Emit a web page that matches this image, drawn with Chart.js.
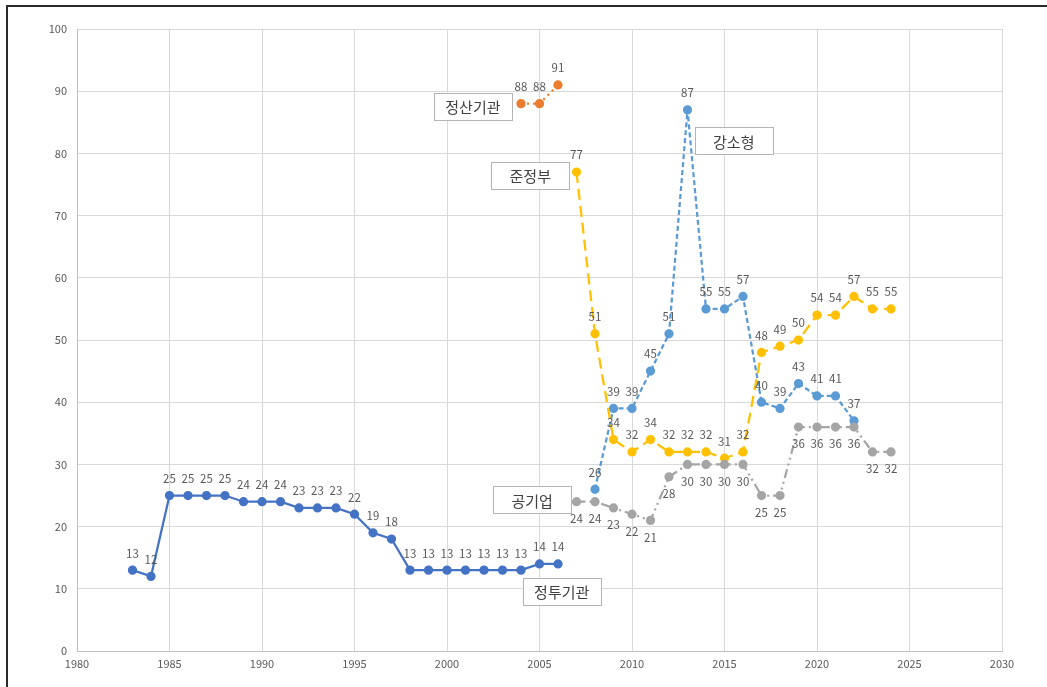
<!DOCTYPE html>
<html>
<head>
<meta charset="utf-8">
<script src="https://cdn.jsdelivr.net/npm/chart.js@4"></script>
<style>
  body { margin: 0; background: #fff; }
  #wrap { width: 1047px; height: 687px; }
</style>
</head>
<body>
<div id="wrap"><canvas id="chart" width="1047" height="687"></canvas></div>
<script>
// years and values per series
const jeongtuYears = [1983, 1984, 1985, 1986, 1987, 1988, 1989, 1990, 1991, 1992, 1993, 1994, 1995, 1996, 1997, 1998, 1999, 2000, 2001, 2002, 2003, 2004, 2005, 2006];
const jeongtuValues = [13, 12, 25, 25, 25, 25, 24, 24, 24, 23, 23, 23, 22, 19, 18, 13, 13, 13, 13, 13, 13, 13, 14, 14];

const jeongsanYears = [2004, 2005, 2006];
const jeongsanValues = [88, 88, 91];

const junYears = [2007, 2008, 2009, 2010, 2011, 2012, 2013, 2014, 2015, 2016, 2017, 2018, 2019, 2020, 2021, 2022, 2023, 2024];
const junValues = [77, 51, 34, 32, 34, 32, 32, 32, 31, 32, 48, 49, 50, 54, 54, 57, 55, 55];

const gangYears = [2008, 2009, 2010, 2011, 2012, 2013, 2014, 2015, 2016, 2017, 2018, 2019, 2020, 2021, 2022];
const gangValues = [26, 39, 39, 45, 51, 87, 55, 55, 57, 40, 39, 43, 41, 41, 37];

const gongYears = [2007, 2008, 2009, 2010, 2011, 2012, 2013, 2014, 2015, 2016, 2017, 2018, 2019, 2020, 2021, 2022, 2023, 2024];
const gongValues = [24, 24, 23, 22, 21, 28, 30, 30, 30, 30, 25, 25, 36, 36, 36, 36, 32, 32];

// series name boxes, anchored in data units (year, value)
const boxNames = ['정산기관', '준정부', '강소형', '공기업', '정투기관'];
const boxYears = [2001.4, 2004.5, 2015.5, 2004.6, 2006.2];
const boxValues = [87.6, 76.4, 82, 24.3, 9.6];

const FONT = '"Noto Sans CJK KR", "Noto Sans", sans-serif';

function pts(years, values) {
    return years.map((y, i) => ({ x: y, y: values[i] }));
}

function series(label, years, values, color, dash, labelPos) {
    return {
        label: label,
        data: pts(years, values),
        borderColor: color,
        backgroundColor: color,
        pointBackgroundColor: color,
        pointBorderColor: color,
        borderWidth: 2.25,
        borderDash: dash,
        borderCapStyle: dash.length ? 'butt' : 'round',
        pointRadius: 3.5,
        pointHoverRadius: 3.5,
        tension: 0,
        fill: false,
        labelPos: labelPos,
    };
}

// draws the value next to each point
const valueLabels = {
    id: 'valueLabels',
    afterDatasetsDraw(chart) {
        const ctx = chart.ctx;
        ctx.save();
        ctx.font = '11.5px ' + FONT;
        ctx.fillStyle = '#595959';
        ctx.textAlign = 'center';
        ctx.textBaseline = 'middle';
        chart.data.datasets.forEach((ds, i) => {
            const meta = chart.getDatasetMeta(i);
            meta.data.forEach((p, j) => {
                const off = ds.labelPos === 'below' ? 17 : -17;
                ctx.fillText(String(ds.data[j].y), p.x, p.y + off);
            });
        });
        ctx.restore();
    }
};

// name boxes and outer frame
const extras = {
    id: 'extras',
    afterDraw(chart) {
        const ctx = chart.ctx;
        const xs = chart.scales.x, ys = chart.scales.y;
        ctx.save();
        ctx.font = '15px ' + FONT;
        ctx.textAlign = 'center';
        ctx.textBaseline = 'middle';
        boxNames.forEach((name, i) => {
            const cx = xs.getPixelForValue(boxYears[i]);
            const cy = ys.getPixelForValue(boxValues[i]);
            const w = 78, h = 27;
            ctx.fillStyle = '#ffffff';
            ctx.fillRect(cx - w / 2, cy - h / 2, w, h);
            ctx.strokeStyle = '#b4b4b4';
            ctx.lineWidth = 1;
            ctx.strokeRect(Math.round(cx - w / 2) + 0.5, Math.round(cy - h / 2) + 0.5, w, h);
            ctx.fillStyle = '#404040';
            ctx.fillText(name, cx, cy + 1);
        });
        // frame lines (top and left)
        ctx.strokeStyle = '#2b2b2b';
        ctx.lineWidth = 2;
        ctx.beginPath();
        ctx.moveTo(7, 687);
        ctx.lineTo(7, 6);
        ctx.lineTo(1047, 6);
        ctx.stroke();
        ctx.restore();
    }
};

const ctx = document.getElementById('chart').getContext('2d');
const chart = new Chart(ctx, {
    type: 'line',
    data: {
        datasets: [
            series('공기업', gongYears, gongValues, '#a5a5a5', [9, 4, 2, 4, 2, 4], 'below'),
            series('준정부', junYears, junValues, '#ffc000', [11, 6], 'above'),
            series('강소형', gangYears, gangValues, '#5b9bd5', [5, 3], 'above'),
            series('정산기관', jeongsanYears, jeongsanValues, '#ed7d31', [2, 4], 'above'),
            series('정투기관', jeongtuYears, jeongtuValues, '#4472c4', [], 'above'),
        ],
    },
    options: {
        responsive: false,
        animation: false,
        layout: { padding: { left: 47, top: 29, right: 45, bottom: 0 } },
        plugins: {
            legend: { display: false },
            tooltip: { enabled: false },
        },
        scales: {
            x: {
                type: 'linear',
                min: 1980,
                max: 2030,
                ticks: {
                    stepSize: 5,
                    color: '#595959',
                    font: { size: 11, family: FONT },
                    padding: 6,
                    callback: v => String(v),
                },
                grid: { color: '#d9d9d9', drawTicks: false, lineWidth: 1 },
                border: { color: '#bfbfbf' },
                afterFit: s => { s.height = 36; },
            },
            y: {
                min: 0,
                max: 100,
                ticks: {
                    stepSize: 10,
                    color: '#595959',
                    font: { size: 11, family: FONT },
                    padding: 10,
                },
                grid: { color: '#d9d9d9', drawTicks: false, lineWidth: 1 },
                border: { color: '#bfbfbf' },
                afterFit: s => { s.width = 30; },
            },
        },
    },
    plugins: [valueLabels, extras],
});
</script>
</body>
</html>
